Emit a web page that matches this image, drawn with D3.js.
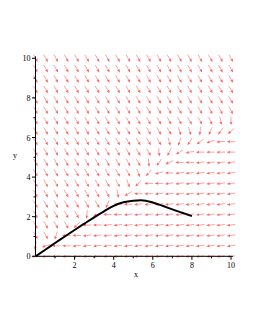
<!DOCTYPE html>
<html>
<head>
<meta charset="utf-8">
<script src="https://cdn.jsdelivr.net/npm/d3@7"></script>
<style>
  body { margin: 0; background: #fff; }
  text { font-family: "Liberation Serif", "DejaVu Serif", serif; font-size: 8px; fill: #000; }
</style>
</head>
<body>
<script>
// grid of arrow positions (x and y take the same values)
const gridX = [0, 0.53, 1.05, 1.58, 2.11, 2.63, 3.16, 3.68, 4.21, 4.74, 5.26, 5.79, 6.32, 6.84, 7.37, 7.89, 8.42, 8.95, 9.47, 10];
const gridY = [10, 9.47, 8.95, 8.42, 7.89, 7.37, 6.84, 6.32, 5.79, 5.26, 4.74, 4.21, 3.68, 3.16, 2.63, 2.11, 1.58, 1.05, 0.53, 0];

// arrow direction in degrees, one row per gridY value (top to bottom)
const angles = [
  [-60,-60,-60,-60,-60,-60,-60,-60,-60,-60,-60,-60,-60,-60,-60,-60,-60,-60,-60,-60],
  [-60,-60,-60,-60,-60,-60,-60,-60,-60,-60,-60,-60,-60,-60,-60,-60,-60,-60,-60,-60],
  [-60,-60,-60,-60,-60,-60,-60,-60,-60,-60,-60,-60,-60,-60,-60,-60,-60,-60,-60,-60],
  [-60,-60,-60,-60,-60,-60,-60,-60,-60,-60,-60,-60,-60,-60,-60,-60,-60,-60,-60,-60],
  [-60,-60,-60,-60,-60,-60,-60,-60,-60,-60,-60,-60,-60,-60,-60,-60,-60,-60,-60,-60],
  [-60,-60,-60,-60,-60,-60,-60,-60,-60,-60,-60,-60,-60,-60,-60,-60,-60,-62,-62,-62],
  [-60,-60,-60,-60,-60,-60,-60,-60,-60,-60,-60,-60,-60,-60,-60,-60,-60,-66,-79,-89],
  [-60,-60,-60,-60,-60,-60,-60,-60,-60,-60,-60,-60,-60,-60,-70,-72,-95,-114,-127,-137],
  [-60,-60,-60,-60,-60,-60,-60,-60,-60,-60,-60,-60,-60,-76,-110,-121,-144,-162,-176,180],
  [-60,-60,-60,-60,-60,-60,-60,-60,-60,-60,-60,-60,-86,-116,-149,-170,180,180,180,180],
  [-60,-60,-60,-60,-60,-60,-60,-60,-60,-60,-60,-84,-125,-155,180,180,188,188,188,188],
  [-60,-60,-60,-60,-60,-60,-60,-60,-60,-60,-71,-133,-164,180,188,188,188,188,188,188],
  [-60,-60,-60,-60,-60,-60,-60,-60,-60,-70,-134,180,180,188,188,188,188,188,188,188],
  [-60,-60,-60,-60,-60,-60,-60,-60,-78,-148,180,180,188,188,188,188,188,188,188,188],
  [-60,-60,-60,-60,-60,-60,-60,-113,180,180,188,188,188,188,188,188,188,188,188,188],
  [-60,-60,-60,-60,-60,-94,-166,180,180,188,188,188,188,188,188,188,188,188,188,188],
  [-60,-60,-60,-60,-137,180,180,188,188,188,188,188,188,188,188,188,188,188,188,188],
  [-60,-60,-108,180,180,188,188,188,188,188,188,188,188,188,188,188,188,188,188,188],
  [-101,-161,180,180,188,188,188,188,188,188,188,188,188,188,188,188,188,188,188,188],
  [185,185,185,185,185,185,185,185,185,185,185,185,185,185,185,185,185,185,185,185]
];

// solution curve
const curveX = [0, 0.5, 1, 1.5, 2, 2.5, 3, 3.5, 4, 4.5, 5, 5.4, 6, 6.5, 7, 7.5, 8];
const curveY = [0, 0.33, 0.67, 1.0, 1.33, 1.65, 1.97, 2.27, 2.55, 2.73, 2.81, 2.83, 2.72, 2.55, 2.37, 2.2, 2.03];

const xMajor = [2, 4, 6, 8, 10];
const xMinor = [1, 3, 5, 7, 9];
const yMajor = [0, 2, 4, 6, 8, 10];
const yMinor = [1, 3, 5, 7, 9];

const W = 255, H = 330;
const svg = d3.select('body').append('svg').attr('width', W).attr('height', H);
svg.append('rect').attr('width', W).attr('height', H).attr('fill', '#fff');

const xScale = d3.scaleLinear().domain([0, 10]).range([35.5, 231]);
const yScale = d3.scaleLinear().domain([0, 10]).range([256.3, 58.3]);

// arrows
const L = 8.5, head = 3.2, hw = 1.4;
const cells = [];
angles.forEach((row, j) => row.forEach((a, i) => cells.push({x: gridX[i], y: gridY[j], a: a})));
const arrows = svg.append('g').attr('stroke', '#ff4a4a').attr('fill', '#ff4a4a').attr('opacity', 0.85);
cells.forEach(c => {
  const r = c.a * Math.PI / 180;
  const ux = Math.cos(r), uy = -Math.sin(r);
  const cx = xScale(c.x), cy = yScale(c.y);
  const x0 = cx - ux * L / 2, y0 = cy - uy * L / 2;
  const x1 = cx + ux * L / 2, y1 = cy + uy * L / 2;
  const bx = x1 - ux * head, by = y1 - uy * head;
  arrows.append('line')
    .attr('x1', x0).attr('y1', y0).attr('x2', bx).attr('y2', by)
    .attr('stroke-width', 0.6);
  arrows.append('path')
    .attr('stroke', 'none')
    .attr('d', `M${x1},${y1}L${bx - uy * hw},${by + ux * hw}L${bx + uy * hw},${by - ux * hw}Z`);
});

// axes
const axes = svg.append('g').attr('stroke', '#000').attr('stroke-width', 1);
axes.append('line').attr('x1', xScale(0)).attr('x2', xScale(10.1)).attr('y1', yScale(0)).attr('y2', yScale(0));
axes.append('line').attr('x1', xScale(0)).attr('x2', xScale(0)).attr('y1', yScale(0)).attr('y2', yScale(10.1));
xMajor.forEach(v => axes.append('line').attr('x1', xScale(v)).attr('x2', xScale(v)).attr('y1', yScale(0)).attr('y2', yScale(0) + 3.5));
xMinor.forEach(v => axes.append('line').attr('x1', xScale(v)).attr('x2', xScale(v)).attr('y1', yScale(0)).attr('y2', yScale(0) + 2));
yMajor.forEach(v => axes.append('line').attr('y1', yScale(v)).attr('y2', yScale(v)).attr('x1', xScale(0)).attr('x2', xScale(0) - 3.5));
yMinor.forEach(v => axes.append('line').attr('y1', yScale(v)).attr('y2', yScale(v)).attr('x1', xScale(0)).attr('x2', xScale(0) - 2));

svg.append('g').selectAll('text').data(xMajor).enter().append('text')
  .attr('x', d => xScale(d)).attr('y', yScale(0) + 12)
  .attr('text-anchor', 'middle').text(d => d);
svg.append('g').selectAll('text').data(yMajor).enter().append('text')
  .attr('x', xScale(0) - 5).attr('y', d => yScale(d) + 3)
  .attr('text-anchor', 'end').text(d => d);

svg.append('text').attr('x', 136).attr('y', 277).attr('text-anchor', 'middle').text('x');
svg.append('text').attr('x', 15).attr('y', 158).attr('text-anchor', 'middle').text('y');

// solution curve
svg.append('path')
  .datum(curveX.map((x, i) => [x, curveY[i]]))
  .attr('fill', 'none').attr('stroke', '#000').attr('stroke-width', 2)
  .attr('d', d3.line().x(d => xScale(d[0])).y(d => yScale(d[1])).curve(d3.curveMonotoneX));
</script>
</body>
</html>
